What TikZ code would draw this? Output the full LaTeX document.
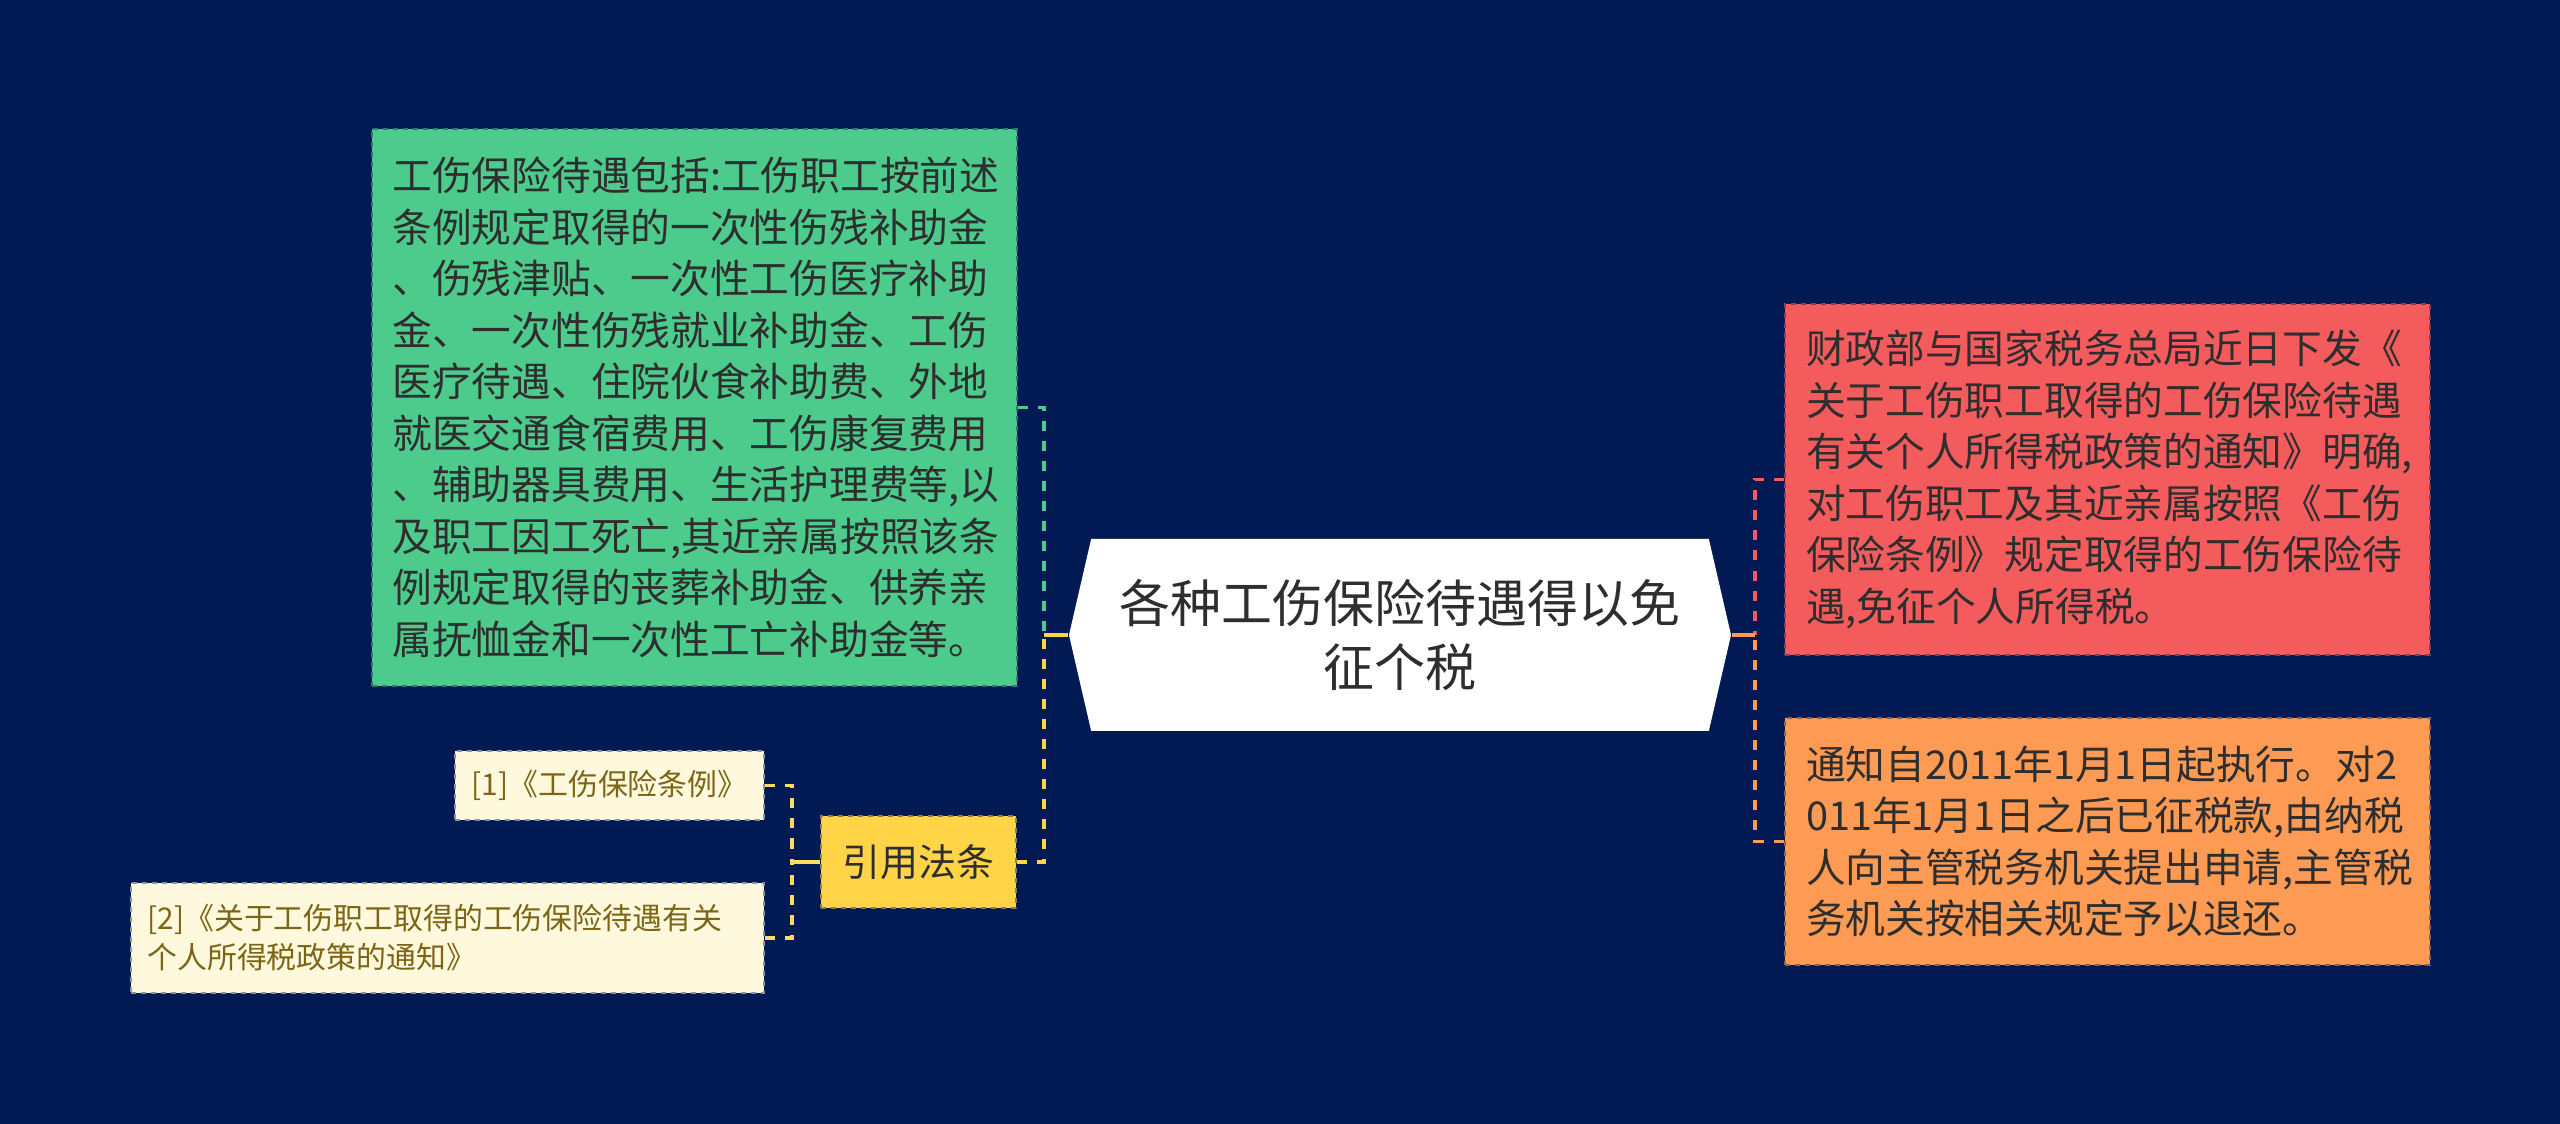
\documentclass[tikz,border=0pt]{standalone}
\usepackage{fontspec}
\setmainfont{Noto Sans CJK SC}
\usetikzlibrary{shapes.symbols}

\definecolor{navy}{HTML}{021A54}
\definecolor{cgreen}{HTML}{4CCB8D}
\definecolor{cred}{HTML}{F45B5D}
\definecolor{corange}{HTML}{FD9A53}
\definecolor{cyellow}{HTML}{FFD447}
\definecolor{ccream}{HTML}{FEF8DD}
\definecolor{tcite}{HTML}{7C6515}
\definecolor{tdark}{HTML}{2E2E2E}
\newcommand{\cnfont}[2]{\fontsize{#1}{#2}\selectfont}

\begin{document}
\begin{tikzpicture}[
    box/.style={rectangle, inner xsep=0.21cm, inner ysep=0pt, align=left,
      dash pattern=on 0.05cm off 0.05cm, line width=0.02cm},
    bigbox/.style={box, minimum width=6.45cm, text width=6.03cm,
      text=tdark, font=\cnfont{11.3pt}{14.65pt}},
    citebox/.style={box, inner xsep=0.165cm, fill=ccream, draw=navy!45!ccream, text=tcite,
      minimum height=0.69cm, font=\cnfont{8.5pt}{11.1pt}},
    link/.style={line width=0.035cm, dash pattern=on 0.1cm off 0.1cm}
  ]
  % Background and frame:
  \fill[navy] (0,0) rectangle (25.6,-11.24);
  \useasboundingbox (0,0) rectangle (25.6,-11.24);

  % Nodes:
  \node[shape=signal, signal to=east and west, signal pointer angle=154,
    fill=white, minimum width=6.62cm, minimum height=1.92cm, inner sep=0pt,
    align=center, text=tdark, font=\cnfont{14.5pt}{18.2pt}] (hub) at (14.00,-6.35)
    {各种工伤保险待遇得以免\\征个税};
  \node[bigbox, fill=cgreen, draw=navy!45!cgreen, minimum height=5.57cm] (benefits) at (6.94,-4.075)
    {工伤保险待遇包括:工伤职工按前述\\
     条例规定取得的一次性伤残补助金\\
     、伤残津贴、一次性工伤医疗补助\\
     金、一次性伤残就业补助金、工伤\\
     医疗待遇、住院伙食补助费、外地\\
     就医交通食宿费用、工伤康复费用\\
     、辅助器具费用、生活护理费等,以\\
     及职工因工死亡,其近亲属按照该条\\
     例规定取得的丧葬补助金、供养亲\\
     属抚恤金和一次性工亡补助金等。};
  \node[bigbox, fill=cred, draw=navy!45!cred, minimum height=3.51cm] (notice) at (21.075,-4.795)
    {财政部与国家税务总局近日下发《\\
     关于工伤职工取得的工伤保险待遇\\
     有关个人所得税政策的通知》明确,\\
     对工伤职工及其近亲属按照《工伤\\
     保险条例》规定取得的工伤保险待\\
     遇,免征个人所得税。};
  \node[bigbox, fill=corange, draw=navy!45!corange, minimum height=2.47cm] (execution) at (21.075,-8.415)
    {通知自2011年1月1日起执行。对2\\
     011年1月1日之后已征税款,由纳税\\
     人向主管税务机关提出申请,主管税\\
     务机关按相关规定予以退还。};
  \node[box, fill=cyellow, draw=navy!45!cyellow, minimum width=1.95cm, minimum height=0.92cm,
    align=center, text=tdark, font=\cnfont{10.8pt}{13pt}] (cite) at (9.185,-8.62) {引用法条};
  \node[citebox, minimum width=3.09cm] (law1) at (6.095,-7.855) {[1]《工伤保险条例》};
  \node[citebox, minimum width=6.33cm, text width=6.0cm, minimum height=1.10cm] (law2) at (4.475,-9.38)
    {[2]《关于工伤职工取得的工伤保险待遇有关\\个人所得税政策的通知》};

  % Wires:
  \coordinate (jL) at (10.44,-6.35);
  \coordinate (jR) at (17.55,-6.35);
  \coordinate (jC) at (7.92,-8.62);
  \draw[link, cgreen] (benefits.east) -| (jL);
  \draw[link, cyellow] (cite.east) -| (jL);
  \draw[cyellow, line width=0.035cm] (jL) -- (hub.west);
  \draw[link, cred] (notice.west) -| (jR);
  \draw[link, corange] (execution.west) -| (jR);
  \draw[corange, line width=0.035cm] (jR) -- (hub.east);
  \draw[link, cyellow!80!ccream] (law1.east) -| (jC);
  \draw[link, cyellow!80!ccream] (law2.east) -| (jC);
  \draw[cyellow!80!ccream, line width=0.035cm] (jC) -- (cite.west);
\end{tikzpicture}
\end{document}
